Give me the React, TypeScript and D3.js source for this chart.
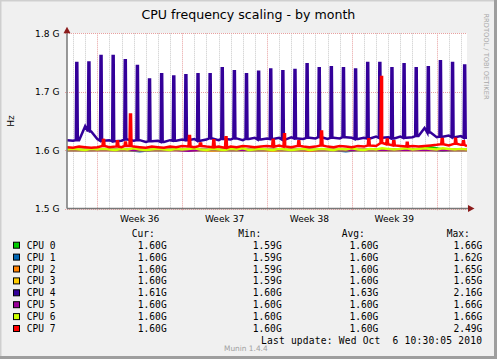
import React from 'react';
import * as d3 from 'd3';

const W = 497;
const H = 359;

// time window of the graph (33 days)
const start = new Date(2010, 8, 3, 12, 0);
const end = new Date(2010, 9, 6, 12, 0);

const yTicks = [1.5, 1.6, 1.7, 1.8];

const cpuNames = ['CPU 0', 'CPU 1', 'CPU 2', 'CPU 3', 'CPU 4', 'CPU 5', 'CPU 6', 'CPU 7'];
const cpuColors = ['#00CC00', '#0066B3', '#FF8000', '#FFCC00', '#330099', '#990099', '#CCFF00', '#FF0000'];
const curVals = ['1.60G', '1.60G', '1.60G', '1.60G', '1.61G', '1.60G', '1.60G', '1.60G'];
const minVals = ['1.59G', '1.59G', '1.59G', '1.59G', '1.60G', '1.60G', '1.60G', '1.60G'];
const avgVals = ['1.60G', '1.60G', '1.60G', '1.60G', '1.63G', '1.60G', '1.60G', '1.60G'];
const maxVals = ['1.66G', '1.62G', '1.65G', '1.65G', '2.16G', '1.66G', '1.66G', '2.49G'];

// GHz, one sample every 12h from start
const cpu4Base = [
  1.617, 1.616, 1.617, 1.641, 1.632, 1.619, 1.616, 1.617, 1.615, 1.616,
  1.618, 1.616, 1.617, 1.614, 1.615, 1.616, 1.614, 1.617, 1.616, 1.618,
  1.617, 1.619, 1.616, 1.618, 1.620, 1.617, 1.619, 1.618, 1.620, 1.617,
  1.619, 1.621, 1.618, 1.620, 1.619, 1.621, 1.618, 1.622, 1.620, 1.619,
  1.621, 1.620, 1.622, 1.619, 1.621, 1.620, 1.622, 1.621, 1.619, 1.621,
  1.620, 1.623, 1.621, 1.622, 1.620, 1.623, 1.621, 1.622, 1.624, 1.638,
  1.630, 1.622, 1.623, 1.625, 1.622, 1.624, 1.621,
];
// daily cron peaks (06:25 each day from Sep 4)
const cpu4Peaks = [
  1.749, 1.750, 1.761, 1.761, 1.754, 1.744, 1.721, 1.730, 1.726, 1.728,
  1.730, 1.730, 1.740, 1.735, 1.730, 1.734, 1.738, 1.735, 1.737, 1.747,
  1.740, 1.742, 1.740, 1.738, 1.749, 1.749, 1.740, 1.747, 1.740, 1.742,
  1.752, 1.749, 1.745,
];

const cpu7Base = [
  1.605, 1.604, 1.606, 1.605, 1.604, 1.605, 1.607, 1.605, 1.606, 1.605,
  1.607, 1.606, 1.605, 1.604, 1.606, 1.605, 1.604, 1.606, 1.605, 1.607,
  1.606, 1.605, 1.607, 1.606, 1.605, 1.606, 1.604, 1.606, 1.605, 1.607,
  1.606, 1.605, 1.606, 1.607, 1.606, 1.608, 1.606, 1.605, 1.607, 1.606,
  1.605, 1.606, 1.608, 1.606, 1.605, 1.607, 1.606, 1.605, 1.607, 1.606,
  1.608, 1.607, 1.612, 1.610, 1.608, 1.607, 1.606, 1.607, 1.606, 1.607,
  1.608, 1.609, 1.610, 1.608, 1.611, 1.609, 1.607,
];
const cpu7Spikes: [string, number][] = [
  ['2010-09-06T11:20', 1.6195], ['2010-09-07T15:00', 1.615], ['2010-09-08T06:50', 1.613],
  ['2010-09-08T16:45', 1.661], ['2010-09-13T13:35', 1.624], ['2010-09-14T11:20', 1.613],
  ['2010-09-15T13:40', 1.617], ['2010-09-16T13:55', 1.622], ['2010-09-20T11:20', 1.6195],
  ['2010-09-21T09:40', 1.627], ['2010-09-22T14:00', 1.615], ['2010-09-24T11:00', 1.634],
  ['2010-09-28T08:35', 1.6185], ['2010-09-29T09:50', 1.725], ['2010-09-29T21:05', 1.618],
  ['2010-09-30T10:05', 1.617], ['2010-10-01T12:40', 1.6125], ['2010-10-04T10:00', 1.621],
  ['2010-10-05T12:20', 1.6195], ['2010-10-06T04:05', 1.615],
];

const cpu6Base = [
  1.601, 1.602, 1.601, 1.600, 1.602, 1.601, 1.602, 1.601, 1.600, 1.602,
  1.601, 1.603, 1.601, 1.600, 1.601, 1.602, 1.601, 1.600, 1.602, 1.601,
  1.602, 1.603, 1.601, 1.600, 1.602, 1.601, 1.600, 1.602, 1.601, 1.603,
  1.600, 1.601, 1.602, 1.601, 1.600, 1.602, 1.601, 1.600, 1.601, 1.602,
  1.600, 1.601, 1.602, 1.601, 1.600, 1.602, 1.601, 1.603, 1.601, 1.600,
  1.602, 1.601, 1.603, 1.602, 1.601, 1.602, 1.603, 1.601, 1.602, 1.603,
  1.602, 1.601, 1.603, 1.602, 1.601, 1.602, 1.601,
];

// one sample per day from start
const cpu0Daily = [
  1.600, 1.600, 1.600, 1.601, 1.600, 1.600, 1.600, 1.600, 1.600, 1.601,
  1.600, 1.600, 1.600, 1.600, 1.600, 1.600, 1.600, 1.600, 1.600, 1.600,
  1.600, 1.600, 1.600, 1.600, 1.600, 1.600, 1.600, 1.600, 1.601, 1.602,
  1.605, 1.601, 1.600, 1.600,
];
const cpu1Daily = [
  1.600, 1.600, 1.600, 1.600, 1.600, 1.600, 1.598, 1.600, 1.600, 1.600,
  1.600, 1.600, 1.600, 1.600, 1.600, 1.600, 1.600, 1.600, 1.600, 1.600,
  1.600, 1.600, 1.600, 1.598, 1.600, 1.600, 1.600, 1.600, 1.600, 1.600,
  1.600, 1.599, 1.600, 1.600,
];
const cpu2Daily = [
  1.600, 1.600, 1.600, 1.600, 1.600, 1.600, 1.600, 1.600, 1.600, 1.600,
  1.600, 1.600, 1.600, 1.600, 1.600, 1.600, 1.600, 1.600, 1.600, 1.600,
  1.599, 1.600, 1.600, 1.600, 1.600, 1.600, 1.600, 1.600, 1.600, 1.600,
  1.600, 1.600, 1.600, 1.600,
];
const cpu3Daily = [
  1.600, 1.600, 1.600, 1.600, 1.600, 1.600, 1.600, 1.600, 1.600, 1.600,
  1.600, 1.600, 1.599, 1.600, 1.600, 1.600, 1.600, 1.599, 1.600, 1.600,
  1.600, 1.600, 1.600, 1.600, 1.600, 1.600, 1.600, 1.600, 1.600, 1.600,
  1.600, 1.600, 1.600, 1.600,
];
const cpu5Daily = [
  1.600, 1.600, 1.600, 1.600, 1.600, 1.600, 1.600, 1.600, 1.600, 1.600,
  1.599, 1.600, 1.600, 1.600, 1.600, 1.600, 1.600, 1.600, 1.600, 1.600,
  1.600, 1.600, 1.600, 1.600, 1.600, 1.600, 1.600, 1.600, 1.600, 1.600,
  1.600, 1.600, 1.600, 1.600,
];

type Pt = { t: Date; v: number };
const HOUR = 3600 * 1000;

function samples(vals: number[], step: number): Pt[] {
  return vals.map((v, i) => ({ t: new Date(+start + i * step), v }));
}

function withSpikes(vals: number[], step: number, spikes: [Date, number][]): Pt[] {
  const pts = samples(vals, step);
  spikes.forEach(([t, v]) => {
    const near = vals[Math.max(0, Math.min(vals.length - 1, Math.round((+t - +start) / step)))];
    pts.push(
      { t: new Date(+t - HOUR), v: near },
      { t, v },
      { t: new Date(+t + 2 * HOUR), v },
      { t: new Date(+t + 3 * HOUR), v: near },
    );
  });
  return pts.sort((a, b) => +a.t - +b.t);
}

const series: Pt[][] = [
  samples(cpu0Daily, 24 * HOUR),
  samples(cpu1Daily, 24 * HOUR),
  samples(cpu2Daily, 24 * HOUR),
  samples(cpu3Daily, 24 * HOUR),
  withSpikes(cpu4Base, 12 * HOUR, cpu4Peaks.map((v, i) => [new Date(2010, 8, 4 + i, 6, 25), v] as [Date, number])),
  samples(cpu5Daily, 24 * HOUR),
  samples(cpu6Base, 12 * HOUR),
  withSpikes(cpu7Base, 12 * HOUR, cpu7Spikes.map(([s, v]) => [new Date(s), v] as [Date, number])),
];

const X0 = 67, X1 = 467, Y0 = 208.5, Y1 = 33.3;

export default function App() {
  const x = d3.scaleTime().domain([start, end]).range([X0, X1]);
  const y = d3.scaleLinear().domain([1.5, 1.8]).range([Y0, Y1]);
  const line = d3.line<Pt>().x(d => x(d.t)).y(d => y(d.v)).curve(d3.curveLinear);

  const mondays = d3.timeMonday.range(start, end);
  const days = d3.timeDay.range(start, end).filter(d => d.getDay() !== 1);
  const weekLabels = d3.timeMonday
    .range(d3.timeMonday.offset(start, -1), end)
    .map(m => ({ m, c: new Date(+m + 3.5 * 24 * HOUR) }))
    .filter(o => o.c > start && o.c < end);
  const weekFmt = d3.timeFormat('%V');

  const sans = 'DejaVu Sans, sans-serif';
  const mono = 'DejaVu Sans Mono, monospace';
  const rowY = (i: number) => 248.7 + i * 11.9;

  return (
    <svg width={W} height={H} style={{ position: 'absolute', left: 0, top: 0 }}>
      <rect x={0} y={0} width={W} height={H} fill="#F0F0F0" />
      <path d={`M0,${H} L0,0 L${W},0`} fill="none" stroke="#CFCFCF" strokeWidth={3} />
      <path d={`M${W - 1.5},0 L${W - 1.5},${H - 1.5} L0,${H - 1.5}`} fill="none" stroke="#9E9E9E" strokeWidth={3} />

      <text x={248.4} y={18.5} textAnchor="middle" fontFamily={sans} fontSize={12.6} fill="#000">
        CPU frequency scaling - by month
      </text>
      <text transform="translate(486,56.5) rotate(90)" textAnchor="middle" dominantBaseline="middle"
        fontFamily={sans} fontSize={6.7} fill="#A8A8A8">
        RRDTOOL / TOBI OETIKER
      </text>

      <rect x={X0} y={Y1} width={X1 - X0} height={Y0 - Y1} fill="#FFFFFF" />

      {days.map((d, i) => (
        <line key={'g' + i} x1={Math.round(x(d)) + 0.5} x2={Math.round(x(d)) + 0.5} y1={Y1} y2={Y0}
          stroke="#C8C8C8" strokeDasharray="1,1" />
      ))}
      {mondays.map((d, i) => (
        <line key={'m' + i} x1={Math.round(x(d)) + 0.5} x2={Math.round(x(d)) + 0.5} y1={Y1} y2={Y0 + 2}
          stroke="#E8A0A0" strokeDasharray="1,1" />
      ))}
      {yTicks.map(t => (
        <g key={'y' + t}>
          <line x1={X0 - 2} x2={X1} y1={Math.round(y(t)) + 0.5} y2={Math.round(y(t)) + 0.5}
            stroke="#E8A0A0" strokeDasharray="1,1" />
          <text x={59.5} y={y(t) + 3.4} textAnchor="end" fontFamily={sans} fontSize={9.1} fill="#000">
            {`${t.toFixed(1)} G`}
          </text>
        </g>
      ))}

      <defs>
        <clipPath id="plot">
          <rect x={X0} y={Y1 - 1} width={X1 - X0} height={Y0 - Y1 + 1} />
        </clipPath>
      </defs>
      <g clipPath="url(#plot)">
        {series.map((s, i) => (
          <path key={'s' + i} d={line(s) || ''} fill="none" stroke={cpuColors[i]} strokeWidth={2.5} />
        ))}
      </g>

      {/* axes */}
      <line x1={X0} x2={X1 + 1} y1={Y0} y2={Y0} stroke="#777" strokeWidth={1.5} />
      <line x1={X0} x2={X0} y1={Y0} y2={Y1} stroke="#777" strokeWidth={1.5} />
      <path d={`M${X0 - 3.5},${Y1} L${X0},${Y1 - 6.5} L${X0 + 3.5},${Y1} Z`} fill="#8C1C1C" />
      <path d={`M${X1 + 1},${Y0 - 3.5} L${X1 + 7.5},${Y0} L${X1 + 1},${Y0 + 3.5} Z`} fill="#8C1C1C" />

      {weekLabels.map(o => (
        <text key={'w' + +o.m} x={x(o.c)} y={221.5} textAnchor="middle" fontFamily={sans} fontSize={9.1} fill="#000">
          {`Week ${+weekFmt(o.m)}`}
        </text>
      ))}
      <text transform="translate(13.5,121) rotate(-90)" textAnchor="middle" fontFamily={sans} fontSize={9.1} fill="#000">
        Hz
      </text>

      {/* legend */}
      <g fontFamily={mono} fontSize={9.6} fill="#000">
        <text x={131.7} y={236.8}>Cur:</text>
        <text x={238.3} y={236.8}>Min:</text>
        <text x={341.7} y={236.8}>Avg:</text>
        <text x={446.7} y={236.8}>Max:</text>
        {cpuNames.map((n, i) => (
          <g key={n}>
            <rect x={13.5} y={rowY(i) - 6.5} width={6} height={6} fill={cpuColors[i]} stroke="#000" strokeWidth={1} />
            <text x={26.7} y={rowY(i)}>{n}</text>
            <text x={166.7} y={rowY(i)} textAnchor="end">{curVals[i]}</text>
            <text x={281.7} y={rowY(i)} textAnchor="end">{minVals[i]}</text>
            <text x={378.3} y={rowY(i)} textAnchor="end">{avgVals[i]}</text>
            <text x={482.3} y={rowY(i)} textAnchor="end">{maxVals[i]}</text>
          </g>
        ))}
        <text x={261} y={344} textLength={221} lengthAdjust="spacing" xmlSpace="preserve" style={{ whiteSpace: 'pre' }}>
          {'Last update: Wed Oct  6 10:30:05 2010'}
        </text>
      </g>
      <text x={224} y={350.5} fontFamily={sans} fontSize={7.4} fill="#A0A0A0">Munin 1.4.4</text>
    </svg>
  );
}
